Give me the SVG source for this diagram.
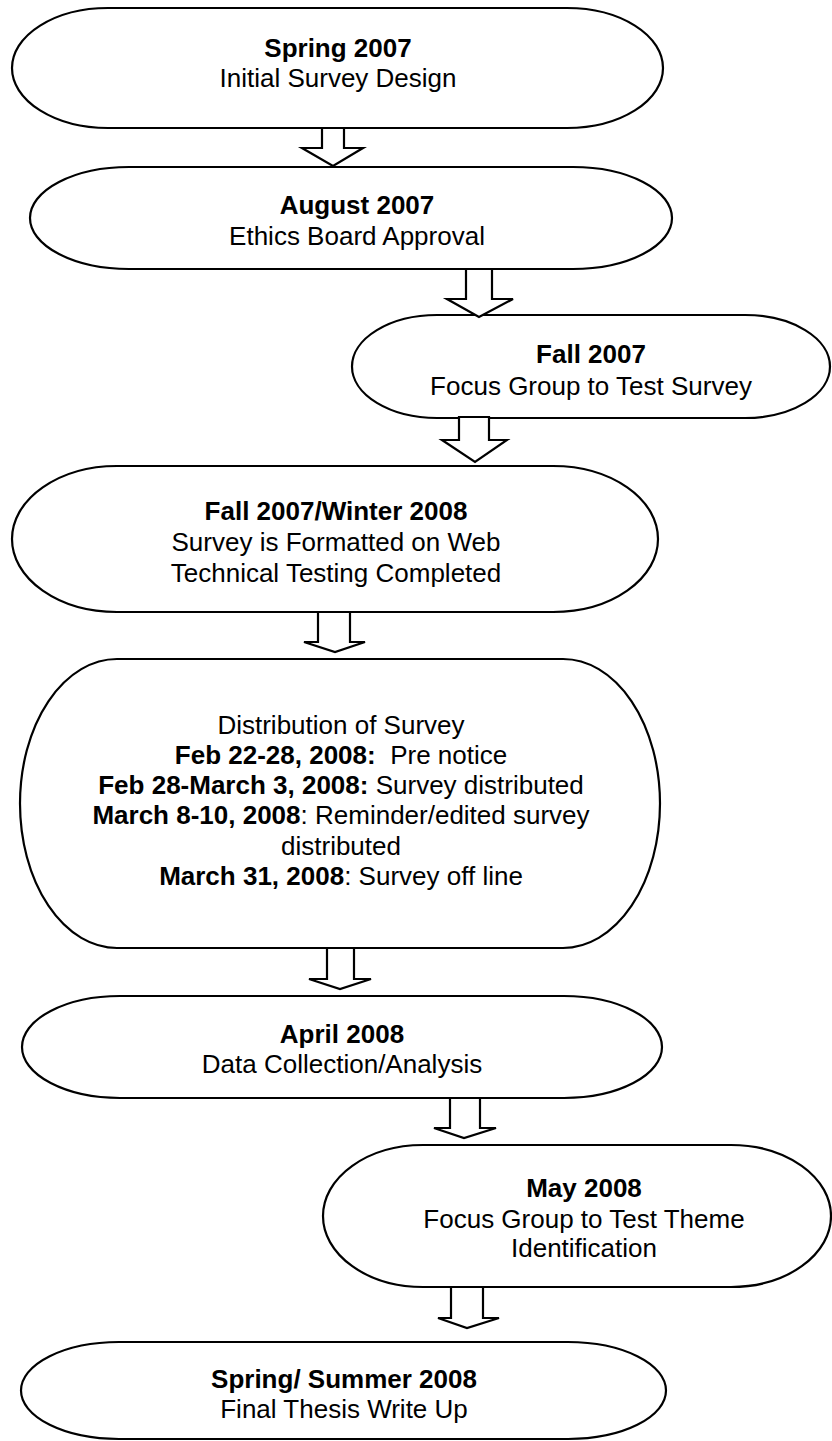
<svg xmlns="http://www.w3.org/2000/svg" width="832" height="1441" viewBox="0 0 832 1441">
  <style>
    .node { fill: #ffffff; stroke: #000000; stroke-width: 2.2; }
    .arrow { fill: #ffffff; stroke: #000000; stroke-width: 2.2; stroke-linejoin: miter; }
    text { font-family: "Liberation Sans", Arial, sans-serif; font-size: 26px; fill: #000000; text-anchor: middle; }
    .b { font-weight: bold; }
  </style>
  <rect width="832" height="1441" fill="#ffffff"/>

  <g id="n1">
    <rect class="node" x="12" y="8" width="651" height="120" rx="96" ry="60"/>
    <text class="b" x="338" y="57">Spring 2007</text>
    <text x="338" y="87">Initial Survey Design</text>
  </g>

  <g id="n2">
    <rect class="node" x="30" y="167" width="642" height="102" rx="99" ry="51"/>
    <text class="b" x="357" y="214">August 2007</text>
    <text x="357" y="245">Ethics Board Approval</text>
  </g>

  <g id="n3">
    <rect class="node" x="352" y="315" width="478" height="103" rx="85" ry="51.5"/>
    <text class="b" x="591" y="363">Fall 2007</text>
    <text x="591" y="395">Focus Group to Test Survey</text>
  </g>

  <g id="n4">
    <rect class="node" x="12" y="466" width="646" height="146" rx="105" ry="73"/>
    <text class="b" x="336" y="520">Fall 2007/Winter 2008</text>
    <text x="336" y="551">Survey is Formatted on Web</text>
    <text x="336" y="582">Technical Testing Completed</text>
  </g>

  <g id="n5">
    <rect class="node" x="20" y="659" width="640" height="289" rx="97" ry="144.5"/>
    <text x="341" y="734">Distribution of Survey</text>
    <text x="341" y="764"><tspan class="b">Feb 22-28, 2008:</tspan>&#160; Pre notice</text>
    <text x="341" y="794"><tspan class="b">Feb 28-March 3, 2008:</tspan> Survey distributed</text>
    <text x="341" y="824"><tspan class="b">March 8-10, 2008</tspan>: Reminder/edited survey</text>
    <text x="341" y="855">distributed</text>
    <text x="341" y="885"><tspan class="b">March 31, 2008</tspan>: Survey off line</text>
  </g>

  <g id="n6">
    <rect class="node" x="22" y="996" width="640" height="102" rx="98" ry="51"/>
    <text class="b" x="342" y="1043">April 2008</text>
    <text x="342" y="1073">Data Collection/Analysis</text>
  </g>

  <g id="n7">
    <rect class="node" x="323" y="1145" width="508" height="142" rx="100" ry="71"/>
    <text class="b" x="584" y="1197">May 2008</text>
    <text x="584" y="1228">Focus Group to Test Theme</text>
    <text x="584" y="1257">Identification</text>
  </g>

  <g id="n8">
    <rect class="node" x="21" y="1342" width="645" height="97" rx="98" ry="48.5"/>
    <text class="b" x="344" y="1388">Spring/ Summer 2008</text>
    <text x="344" y="1418">Final Thesis Write Up</text>
  </g>

  <g id="connectors">
    <path class="arrow" d="M322,128 V148 H302 L333,166 L363,148 H344 V128 Z"/>
    <path class="arrow" d="M466,269 V299 H447 L479,317 L513,299 H492 V269 Z"/>
    <path class="arrow" d="M459,417 V440 H442 L475,462 L507,440 H489 V417 Z"/>
    <path class="arrow" d="M318,612 V642 H304 L335,652 L365,642 H350 V612 Z"/>
    <path class="arrow" d="M327,948 V979 H309 L340,989 L371,979 H354 V948 Z"/>
    <path class="arrow" d="M450,1098 V1128 H434 L464,1138 L496,1128 H480 V1098 Z"/>
    <path class="arrow" d="M451,1287 V1318 H438 L467,1328 L499,1318 H483 V1287 Z"/>
  </g>
</svg>
